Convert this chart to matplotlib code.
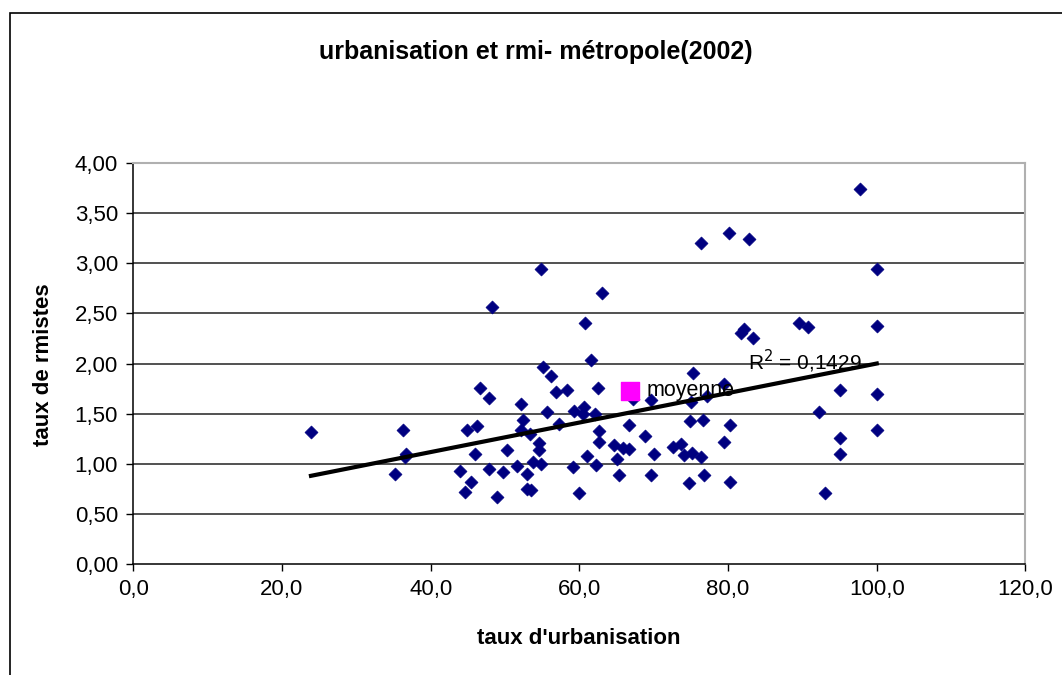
import matplotlib.pyplot as plt
from matplotlib.patches import Rectangle
import numpy as np

plt.rcParams['font.family'] = ['Liberation Sans', 'DejaVu Sans']

# taux d'urbanisation / taux de rmistes par departement
urbanisation = np.array([
    23.9, 36.3, 36.7, 36.5, 35.2, 61.5, 55.1, 56.2, 46.7, 47.9,
    56.9, 58.3, 62.5, 52.2, 55.6, 59.3, 60.6, 60.5, 62.1, 52.4,
    57.3, 44.9, 46.2, 52.2, 53.4, 62.7, 54.6, 54.6, 62.7, 50.3,
    46.0, 61.0, 53.8, 54.9, 51.6, 47.9, 49.7, 44.0, 53.0, 59.1,
    62.3, 45.4, 44.6, 53.0, 53.5, 48.9, 60.0, 75.3, 79.5, 67.2,
    69.7, 75.0, 77.1, 74.9, 76.6, 80.3, 66.7, 68.8, 79.5, 64.7,
    65.9, 66.7, 72.6, 73.7, 74.1, 75.2, 76.4, 70.1, 65.0, 65.3,
    69.6, 74.7, 76.8, 80.3, 95.1, 100.0, 92.2, 95.1, 100.0, 95.1,
    93.0, 54.8, 48.3, 60.8, 97.8, 76.3, 80.1, 82.8, 100.0, 63.1,
    81.7, 82.2, 83.3, 89.6, 90.7, 100.0])
rmistes = np.array([
    1.32, 1.34, 1.10, 1.07, 0.90, 2.04, 1.97, 1.88, 1.76, 1.66,
    1.72, 1.74, 1.76, 1.60, 1.52, 1.53, 1.57, 1.50, 1.50, 1.44,
    1.40, 1.34, 1.38, 1.34, 1.30, 1.33, 1.21, 1.14, 1.22, 1.14,
    1.10, 1.08, 1.02, 1.00, 0.98, 0.945, 0.92, 0.925, 0.90, 0.965,
    0.99, 0.82, 0.72, 0.745, 0.74, 0.665, 0.705, 1.91, 1.80, 1.65,
    1.64, 1.62, 1.68, 1.43, 1.44, 1.39, 1.39, 1.28, 1.22, 1.19,
    1.155, 1.145, 1.165, 1.20, 1.09, 1.105, 1.065, 1.10, 1.045, 0.89,
    0.89, 0.805, 0.89, 0.82, 1.74, 1.70, 1.52, 1.26, 1.34, 1.10,
    0.705, 2.94, 2.56, 2.40, 3.74, 3.20, 3.30, 3.24, 2.94, 2.70,
    2.30, 2.34, 2.25, 2.40, 2.36, 2.37])

moyenne_x = 66.8
moyenne_y = 1.73

# droite de tendance lineaire (Excel)
trend_slope = 0.01472
trend_intercept = 0.528
r2 = 0.1429

fig = plt.figure(figsize=(10.62, 6.75), dpi=100)
ax = fig.add_axes([0.1255, 0.1644, 0.8401, 0.5941])

# cadre du graphique
fig.patches.append(Rectangle((10/1062, -0.1), 1.2, (675-13)/675 + 0.1,
                             transform=fig.transFigure, fill=False,
                             edgecolor='black', lw=1.2))

for v in np.arange(0.5, 4.0, 0.5):
    ax.axhline(v, color='#222222', lw=1.1, zorder=1)

ax.scatter(urbanisation, rmistes, marker='D', s=6.6**2, color='#000080',
           edgecolors='#000080', lw=0.5, zorder=3)

tx = np.array([urbanisation.min(), urbanisation.max()])
ax.plot(tx, trend_intercept + trend_slope * tx, color='black', lw=3, zorder=4)

ax.scatter([moyenne_x], [moyenne_y], marker='s', s=13.5**2, color='#ff00ff', zorder=5)
ax.text(moyenne_x + 2.2, moyenne_y, 'moyenne', fontsize=15.5, va='center', ha='left', zorder=6)
ax.text(82.7, 2.02, 'R$^2$ = ' + f'{r2:.4f}'.replace('.', ','), fontsize=15,
        va='center', ha='left', zorder=6)

ax.set_xlim(0, 120)
ax.set_ylim(0, 4)
ax.set_xticks(np.arange(0, 121, 20))
ax.set_xticklabels([f'{v:.1f}'.replace('.', ',') for v in np.arange(0, 121, 20)])
ax.set_yticks(np.arange(0, 4.01, 0.5))
ax.set_yticklabels([f'{v:.2f}'.replace('.', ',') for v in np.arange(0, 4.01, 0.5)])
ax.tick_params(labelsize=16, length=5, width=1, direction='out', pad=6)

for s in ['top', 'right']:
    ax.spines[s].set_color('#b0b0b0')
    ax.spines[s].set_linewidth(1.5)
for s in ['left', 'bottom']:
    ax.spines[s].set_color('black')
    ax.spines[s].set_linewidth(1.1)

fig.text(0.505, 1 - 52/675, 'urbanisation et rmi- métropole(2002)', fontsize=18,
         fontweight='bold', ha='center', va='center')
fig.text(579/1062, 1 - 638/675, "taux d'urbanisation", fontsize=16,
         fontweight='bold', ha='center', va='center')
fig.text(44/1062, 1 - 365/675, 'taux de rmistes', fontsize=16, fontweight='bold',
         ha='center', va='center', rotation=90)

fig.savefig('out.png', dpi=100)
